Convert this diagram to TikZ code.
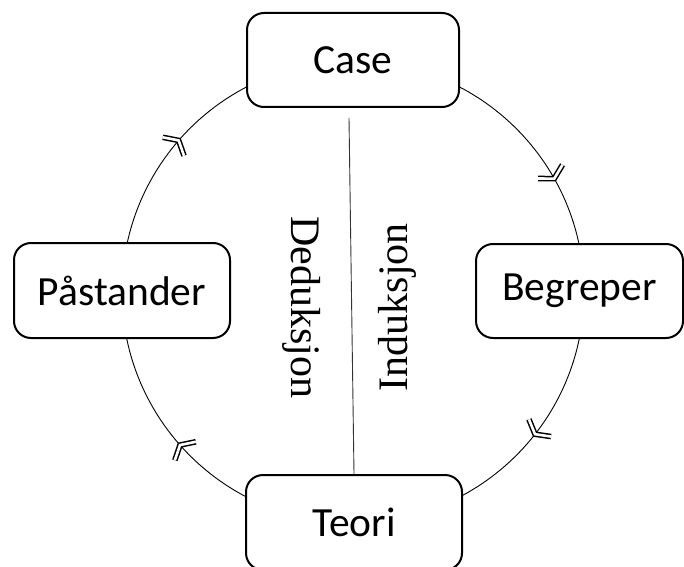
\documentclass[tikz,border=0pt]{standalone}
\usepackage{fontspec}
\usetikzlibrary{calc}
\setmainfont{Carlito}
\newfontfamily\serifx{Liberation Serif}
\begin{document}
\begin{tikzpicture}[x=1pt,y=1pt,
  box/.style={draw=black, line width=2pt, rounded corners=17pt, fill=white,
    inner sep=0pt, font=\fontsize{41.5}{49}\selectfont},
  vtext/.style={inner sep=0pt, font=\serifx\fontsize{42}{50}\selectfont},
  ring/.style={draw=black, line width=0.9pt},
  chev/.style={double=white, draw=black, line width=1.5pt, double distance=2.6pt, line join=miter}
]
\useasboundingbox (0,0) rectangle (684,566);
\coordinate (c) at (353,274);
\draw[ring] (c) circle (231);
% chevrons (pointing clockwise)
\foreach \a in {29.4,-38,139,221.5}{
  \begin{scope}[shift={($(c)+(\a:231)$)}, rotate=\a-90]
    \draw[chev] (-8,14) -- (0,0) -- (-8,-14);
  \end{scope}
}
\node[box, minimum width=212pt, minimum height=94pt] (case) at (353,506) {Case};
\node[box, minimum width=216pt, minimum height=95pt] (pas) at (122,275.5) {Påstander};
\node[box, minimum width=207pt, minimum height=94pt] (beg) at (579.5,275) {Begreper};
\node[box, minimum width=216pt, minimum height=95pt] (teori) at (354,43.5) {Teori};
\coordinate (ltop) at (349,448);
\draw[line width=0.9pt, black!80] (ltop) -- (teori.north);
\node[vtext, rotate=-90] (ded) at (301.5,258.5) {Deduksjon};
\node[vtext, rotate=90] (ind) at (397,259) {Induksjon};
\end{tikzpicture}
\end{document}
